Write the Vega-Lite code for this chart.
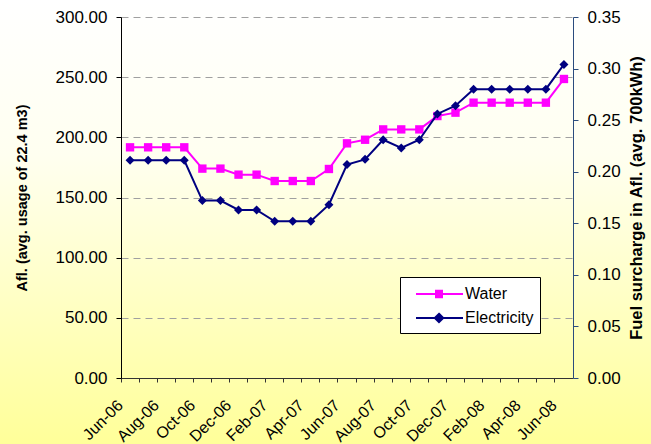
{
  "$schema": "https://vega.github.io/schema/vega-lite/v6.json",
  "width": 651,
  "height": 444,
  "padding": 0,
  "autosize": {"type": "none"},
  "background": "#FFFFCC",
  "config": {
    "view": {
      "stroke": null,
      "fill": {"gradient": "linear", "x1": 0, "y1": 0, "x2": 0, "y2": 1,
        "stops": [{"offset": 0, "color": "#FFFFFF"}, {"offset": 0.35, "color": "#FFFFF0"}, {"offset": 1, "color": "#FFFF99"}]}
    },
    "font": "Liberation Sans",
    "axis": {"labelColor": "black", "titleColor": "black", "labelFont": "Liberation Sans", "titleFont": "Liberation Sans"}
  },
  "data": {
    "values": [
      {"month": "Jun-06", "water": 191.7, "electricity": 0.211},
      {"month": "Jul-06", "water": 191.7, "electricity": 0.211},
      {"month": "Aug-06", "water": 191.7, "electricity": 0.211},
      {"month": "Sep-06", "water": 191.7, "electricity": 0.211},
      {"month": "Oct-06", "water": 174.0, "electricity": 0.172},
      {"month": "Nov-06", "water": 174.0, "electricity": 0.172},
      {"month": "Dec-06", "water": 169.0, "electricity": 0.163},
      {"month": "Jan-07", "water": 169.0, "electricity": 0.163},
      {"month": "Feb-07", "water": 163.7, "electricity": 0.152},
      {"month": "Mar-07", "water": 163.7, "electricity": 0.152},
      {"month": "Apr-07", "water": 163.7, "electricity": 0.152},
      {"month": "May-07", "water": 173.7, "electricity": 0.168},
      {"month": "Jun-07", "water": 195.0, "electricity": 0.207},
      {"month": "Jul-07", "water": 198.0, "electricity": 0.212},
      {"month": "Aug-07", "water": 206.6, "electricity": 0.231},
      {"month": "Sep-07", "water": 206.6, "electricity": 0.223},
      {"month": "Oct-07", "water": 206.6, "electricity": 0.231},
      {"month": "Nov-07", "water": 217.7, "electricity": 0.256},
      {"month": "Dec-07", "water": 220.5, "electricity": 0.264},
      {"month": "Jan-08", "water": 228.8, "electricity": 0.280},
      {"month": "Feb-08", "water": 228.8, "electricity": 0.280},
      {"month": "Mar-08", "water": 228.8, "electricity": 0.280},
      {"month": "Apr-08", "water": 228.8, "electricity": 0.280},
      {"month": "May-08", "water": 228.8, "electricity": 0.280},
      {"month": "Jun-08", "water": 248.5, "electricity": 0.304}
    ]
  },
  "encoding": {
    "x": {
      "field": "month", "type": "ordinal", "sort": null,
      "scale": {"type": "band", "paddingInner": 0, "paddingOuter": 0, "range": [121, 573]},
      "axis": {
        "title": null, "offset": -66, "bandPosition": 0, "labelAngle": -45, "labelAlign": "right", "labelBaseline": "bottom",
        "labelPadding": 26, "labelOffset": -4, "tickSize": 4, "labelFontSize": 16, "labelOverlap": false, "grid": false,
        "domainColor": "#333333", "tickColor": "#333333",
        "labelExpr": "indexof(['Jun','Aug','Oct','Dec','Feb','Apr'], slice(datum.value, 0, 3)) >= 0 ? datum.value : ''"
      }
    }
  },
  "layer": [
    {
      "mark": {"type": "line", "strokeWidth": 2, "point": {"shape": "square", "size": 70, "filled": true, "opacity": 1}},
      "encoding": {
        "y": {
          "field": "water", "type": "quantitative",
          "scale": {"domain": [0, 300], "nice": false, "zero": true, "range": [378, 17]},
          "axis": {
            "orient": "left", "offset": -121, "title": "Afl. (avg. usage of 22.4 m3)",
            "titleFontSize": 14.5, "titleFontWeight": "bold", "titlePadding": 26,
            "values": [0, 50, 100, 150, 200, 250, 300], "format": ".2f",
            "labelFontSize": 17, "labelPadding": 9, "tickSize": 5,
            "domainColor": "black", "tickColor": "black",
            "grid": true, "gridColor": "#A0A0A0", "gridDash": [7, 5], "gridWidth": 1
          }
        },
        "color": {
          "datum": "Water", "type": "nominal",
          "scale": {"domain": ["Water", "Electricity"], "range": ["#FF00FF", "#000080"]},
          "legend": {
            "title": null, "orient": "none", "legendX": 400, "legendY": 277,
            "fillColor": "white", "strokeColor": "black", "padding": 6,
            "labelFontSize": 16, "labelFont": "Liberation Sans", "labelColor": "black",
            "symbolSize": 400, "symbolStrokeWidth": 2, "rowPadding": 5, "labelOffset": 37,
            "encode": {
              "symbols": {
                "update": {
                  "shape": {"signal": "datum.value === 'Water' ? 'M-0.1,0H4.6M1.9,-0.33H2.5V0.33H1.9Z' : 'M-0.1,0H4.6M2.2,-0.42L2.62,0L2.2,0.42L1.78,0Z'"},
                  "fill": {"scale": "color", "field": "value"},
                  "stroke": {"scale": "color", "field": "value"},
                  "opacity": {"value": 1}
                }
              }
            }
          }
        }
      }
    },
    {
      "mark": {"type": "line", "strokeWidth": 2, "point": {"shape": "diamond", "size": 81, "filled": true, "opacity": 1}},
      "encoding": {
        "y": {
          "field": "electricity", "type": "quantitative",
          "scale": {"domain": [0, 0.35], "nice": false, "zero": true, "range": [378, 17]},
          "axis": {
            "orient": "right", "offset": -78, "title": "Fuel surcharge in Afl. (avg. 700kWh)",
            "titleFontSize": 16.5, "titleFontWeight": "bold", "titleAngle": 270, "titleBaseline": "top", "titlePadding": 8,
            "values": [0, 0.05, 0.1, 0.15, 0.2, 0.25, 0.3, 0.35], "format": ".2f",
            "labelFontSize": 17, "labelPadding": 9, "tickSize": 5,
            "domainColor": "#2B4C7E", "tickColor": "#2B4C7E", "grid": false
          }
        },
        "color": {"datum": "Electricity", "type": "nominal"}
      }
    }
  ],
  "resolve": {"scale": {"y": "independent"}}
}
